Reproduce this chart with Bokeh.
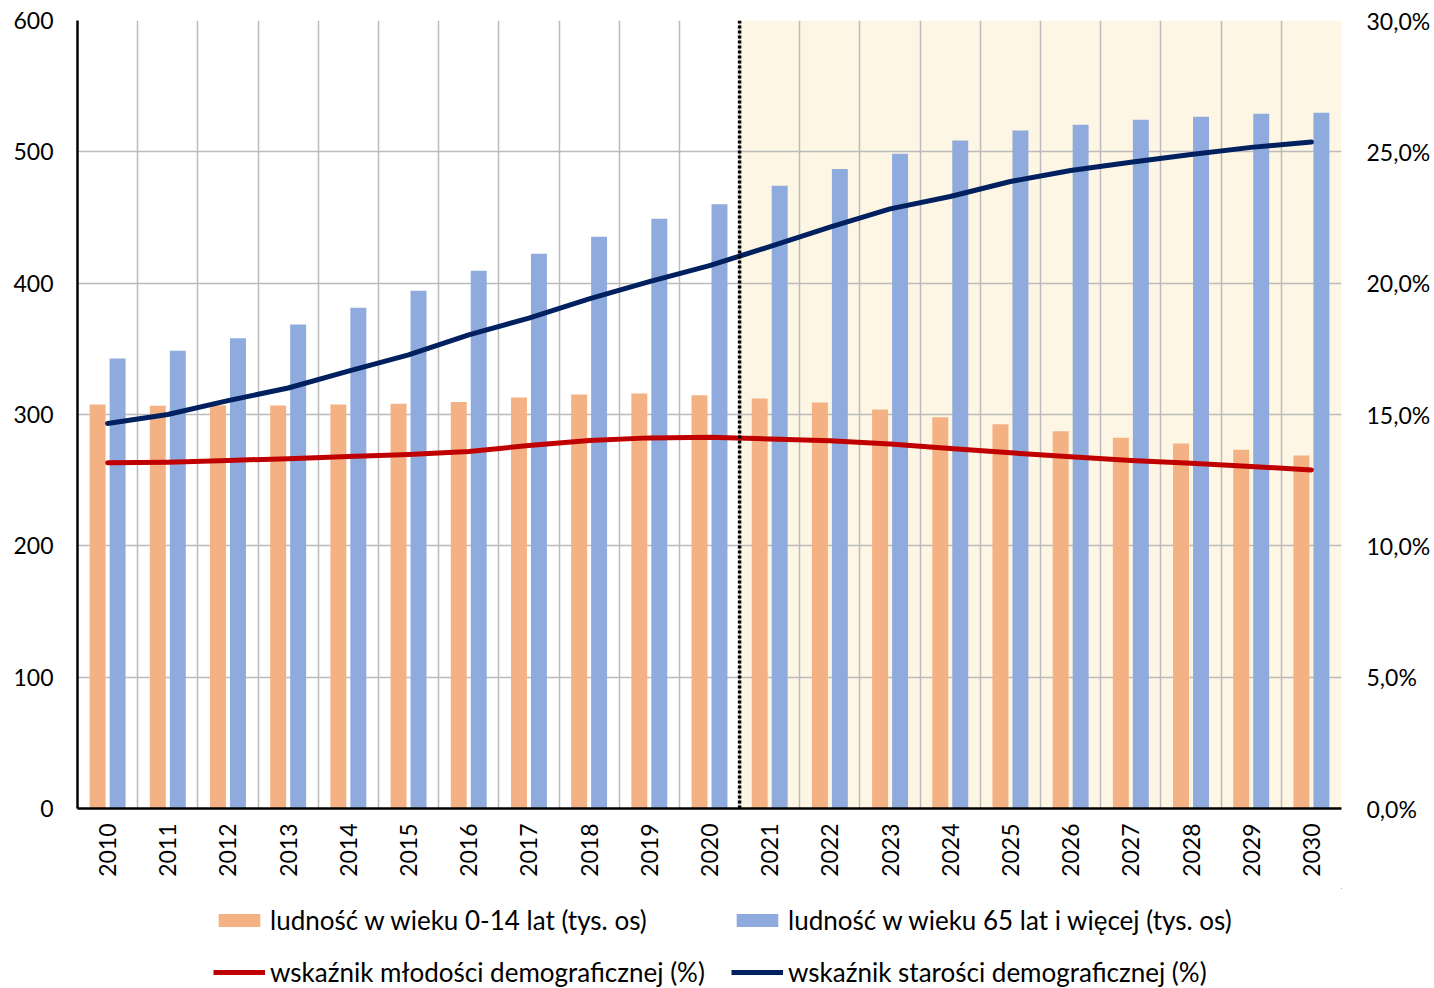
from bokeh.plotting import figure
from bokeh.layouts import column
from bokeh.models import (Range1d, LinearAxis, FixedTicker, BoxAnnotation, Span,
                          Legend, LegendItem, ColumnDataSource)
from bokeh.transform import dodge
from bokeh.embed import file_html
from bokeh.resources import INLINE

years = [str(y) for y in range(2010, 2031)]
pop_0_14 = [307.6, 306.6, 307.0, 306.9, 307.6, 308.1, 309.6, 312.9, 315.2, 316.0, 314.7,
            312.2, 309.1, 303.8, 298.0, 292.5, 287.3, 282.3, 277.9, 273.1, 268.8]
pop_65 = [342.6, 348.6, 358.0, 368.5, 381.2, 394.2, 409.4, 422.4, 435.4, 449.1, 460.0,
          474.2, 487.0, 498.6, 508.6, 516.2, 520.7, 524.5, 526.8, 529.0, 529.8]
youth_idx = [13.16, 13.18, 13.25, 13.32, 13.40, 13.48, 13.59, 13.82, 14.01, 14.11, 14.13,
             14.07, 14.00, 13.88, 13.71, 13.54, 13.39, 13.25, 13.14, 13.02, 12.89]
old_idx = [14.66, 15.00, 15.53, 16.01, 16.65, 17.27, 18.03, 18.67, 19.40, 20.06, 20.67,
           21.39, 22.13, 22.83, 23.30, 23.87, 24.29, 24.60, 24.90, 25.17, 25.37]
left_ticks = [0, 100, 200, 300, 400, 500, 600]
right_ticks = [0, 5, 10, 15, 20, 25, 30]
right_labels = ["0,0%", "5,0%", "10,0%", "15,0%", "20,0%", "25,0%", "30,0%"]
series_names = ["ludność w wieku 0-14 lat (tys. os)",
                "ludność w wieku 65 lat i więcej (tys. os)",
                "wskaźnik młodości demograficznej (%)",
                "wskaźnik starości demograficznej (%)"]
forecast_start = "2021"

C_YOUNG, C_OLD, C_YIDX, C_OIDX = "#F4B183", "#8FAADC", "#C00000", "#002060"
FONT = "Lato"
FS = "23px"
LFS = "26px"

idx = list(range(len(years)))
src = ColumnDataSource(dict(x=idx, a=pop_0_14, b=pop_65, y1=youth_idx, y2=old_idx))

p = figure(width=1434, height=888, output_backend="svg", toolbar_location=None,
           x_range=Range1d(-0.5, len(years) - 0.5), y_range=Range1d(0, 600),
           min_border_left=77, min_border_right=93, min_border_top=20, min_border_bottom=80)
p.outline_line_alpha = 0
p.background_fill_color = "white"
p.extra_y_ranges = {"pct": Range1d(0, 30)}

# shaded forecast region
fs = years.index(forecast_start) - 0.5
p.add_layout(BoxAnnotation(left=fs, right=len(years) - 0.5, fill_color="#FEF6E4",
                           fill_alpha=1.0, line_alpha=0, level="image"))

# grids
p.xgrid.ticker = FixedTicker(ticks=[i - 0.5 for i in range(len(years) + 1)])
p.ygrid.ticker = FixedTicker(ticks=left_ticks)
for g in (p.xgrid, p.ygrid):
    g.grid_line_color = "#BBBBBB"
    g.grid_line_width = 1.5

bw = 0.265
p.vbar(x=dodge("x", -0.166, range=p.x_range), top="a", width=bw, source=src,
       fill_color=C_YOUNG, line_color=None)
p.vbar(x=dodge("x", 0.166, range=p.x_range), top="b", width=bw, source=src,
       fill_color=C_OLD, line_color=None)

p.add_layout(Span(location=fs, dimension="height", line_color="black",
                  line_width=3.5, line_dash="3 2"))

p.line("x", "y1", source=src, y_range_name="pct", line_color=C_YIDX,
       line_width=5, line_cap="round", line_join="round")
p.line("x", "y2", source=src, y_range_name="pct", line_color=C_OIDX,
       line_width=5, line_cap="round", line_join="round")

# axes
xa = p.xaxis[0]
xa.ticker = FixedTicker(ticks=idx)
xa.major_label_overrides = {i: y for i, y in enumerate(years)}
xa.major_label_orientation = 1.5708
xa.major_tick_out = 0
xa.major_tick_in = 0
xa.minor_tick_out = 0
xa.minor_tick_in = 0
xa.axis_line_color = "black"
xa.axis_line_width = 2.5
xa.major_label_standoff = 15
xa.major_label_text_font = FONT
xa.major_label_text_font_size = FS
xa.major_label_text_color = "black"

ya = p.yaxis[0]
ya.ticker = FixedTicker(ticks=left_ticks)
ya.major_tick_out = 0
ya.major_tick_in = 0
ya.minor_tick_out = 0
ya.minor_tick_in = 0
ya.axis_line_color = "black"
ya.axis_line_width = 2.5
ya.major_label_standoff = 24
ya.major_label_text_font = FONT
ya.major_label_text_font_size = FS
ya.major_label_text_color = "black"

ra = LinearAxis(y_range_name="pct", ticker=FixedTicker(ticks=right_ticks))
ra.major_label_overrides = {t: l for t, l in zip(right_ticks, right_labels)}
ra.major_tick_out = 0
ra.major_tick_in = 0
ra.minor_tick_out = 0
ra.minor_tick_in = 0
ra.axis_line_alpha = 0
ra.major_label_standoff = 25
ra.major_label_text_font = FONT
ra.major_label_text_font_size = FS
ra.major_label_text_color = "black"
p.add_layout(ra, "right")

# ---- legend strip (separate figure below the chart; its ranges show no data) ----
lp = figure(width=1434, height=100, output_backend="svg", toolbar_location=None,
            x_range=Range1d(-1000, -999), y_range=Range1d(-1000, -999),
            x_axis_location=None, y_axis_location=None,
            min_border_left=0, min_border_right=0, min_border_top=0, min_border_bottom=0)
lp.grid.visible = False
lp.outline_line_alpha = 0
g1 = lp.vbar(x="x", top="a", width=bw, source=src, fill_color=C_YOUNG, line_color=None)
g2 = lp.vbar(x="x", top="b", width=bw, source=src, fill_color=C_OLD, line_color=None)
g3 = lp.line("x", "y1", source=src, line_color=C_YIDX, line_width=5)
g4 = lp.line("x", "y2", source=src, line_color=C_OIDX, line_width=5)

legend = Legend(items=[LegendItem(label=n, renderers=[r])
                       for n, r in zip(series_names, [g1, g2, g3, g4])],
                orientation="horizontal", ncols=2, location=(136, 0))
legend.label_text_font = FONT
legend.label_text_font_size = LFS
legend.label_text_color = "black"
legend.glyph_width = 52
legend.glyph_height = 16
legend.label_standoff = 5
legend.spacing = 20
legend.label_width = 441
legend.label_height = 30
legend.padding = 0
legend.margin = 0
legend.border_line_alpha = 0
legend.background_fill_alpha = 0
lp.add_layout(legend, "center")

layout = column(p, lp, spacing=0)
open("out.html", "w").write(file_html(layout, INLINE))
